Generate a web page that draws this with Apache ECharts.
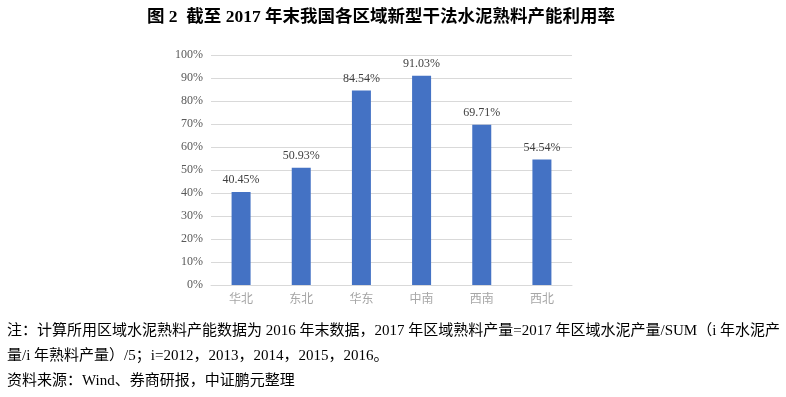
<!DOCTYPE html>
<html>
<head>
<meta charset="utf-8">
<script src="https://cdn.jsdelivr.net/npm/echarts@6/dist/echarts.min.js"></script>
<style>
  html, body { margin: 0; padding: 0; background: #fff; }
  #chart { width: 786px; height: 397px; }
</style>
</head>
<body>
<div id="chart"></div>
<script>
const regions = ['华北', '东北', '华东', '中南', '西南', '西北']
const utilization = [40.45, 50.93, 84.54, 91.03, 69.71, 54.54]
const titleText = '图 2  截至 2017 年末我国各区域新型干法水泥熟料产能利用率'
const noteLines = [
  '注：计算所用区域水泥熟料产能数据为 2016 年末数据，2017 年区域熟料产量=2017 年区域水泥产量/SUM（i 年水泥产',
  '量/i 年熟料产量）/5；i=2012，2013，2014，2015，2016。',
  '资料来源：Wind、券商研报，中证鹏元整理'
]

const serif = '"Liberation Serif", "Times New Roman", "Noto Sans CJK SC", serif'

const chart = echarts.init(document.getElementById('chart'))
chart.setOption({
  animation: false,
  title: {
    text: titleText,
    left: 142,
    top: 4,
    textStyle: { fontFamily: serif, fontSize: 17.5, fontWeight: 'bold', color: '#000' }
  },
  grid: { left: 211, right: 214, top: 55, bottom: 112 },
  xAxis: {
    type: 'category',
    data: regions,
    axisTick: { show: false },
    axisLine: { lineStyle: { color: '#d9d9d9' } },
    axisLabel: { fontFamily: serif, fontSize: 12, color: '#a6a6a6', margin: 9 }
  },
  yAxis: {
    type: 'value',
    min: 0,
    max: 100,
    interval: 10,
    axisLabel: { formatter: '{value}%', fontFamily: serif, fontSize: 12, color: '#595959', margin: 8 },
    axisLine: { show: false },
    axisTick: { show: false },
    splitLine: { lineStyle: { color: '#d9d9d9' } }
  },
  series: [{
    type: 'bar',
    data: utilization,
    barWidth: 19,
    itemStyle: { color: '#4472c4' },
    label: {
      show: true,
      position: 'top',
      distance: 6,
      formatter: p => p.value.toFixed(2) + '%',
      fontFamily: serif,
      fontSize: 12,
      color: '#404040'
    }
  }],
  graphic: noteLines.map((line, i) => ({
    type: 'text',
    left: 7,
    top: 324 + i * 25,
    style: { text: line, fontFamily: serif, fontSize: 15, fill: '#000' }
  }))
})
</script>
</body>
</html>
